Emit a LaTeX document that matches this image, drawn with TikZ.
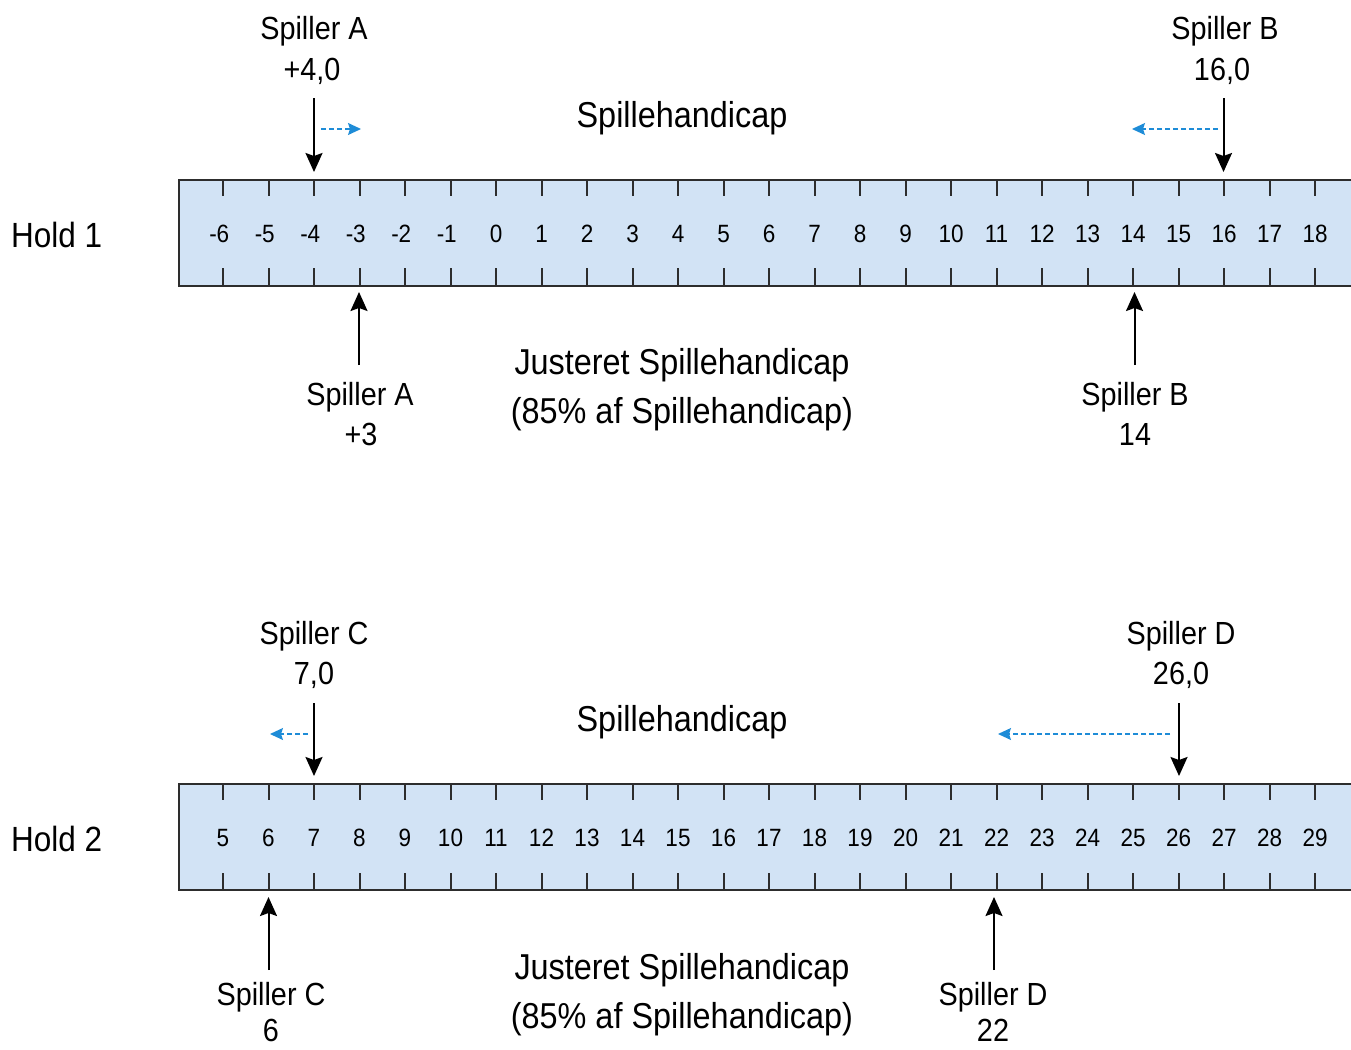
\documentclass[tikz,border=0pt]{standalone}
\usepackage{fontspec}
\setmainfont{Liberation Sans}[FakeStretch=0.9]
\usetikzlibrary{arrows.meta}
\definecolor{rulerfill}{RGB}{210,227,245}
\definecolor{rulerline}{RGB}{45,45,45}
\definecolor{shiftblue}{RGB}{30,140,215}
\begin{document}
\begin{tikzpicture}[x=1pt,y=-1pt,
  lbl/.style={font=\fontsize{32}{38}\selectfont, anchor=base, inner sep=0pt},
  ttl/.style={font=\fontsize{36}{42}\selectfont, anchor=base, inner sep=0pt},
  holdlbl/.style={font=\fontsize{35}{40}\selectfont, anchor=base west, inner sep=0pt},
  num/.style={font=\fontsize{25}{30}\selectfont, anchor=base, inner sep=0pt},
  ruler/.style={draw=rulerline, fill=rulerfill, line width=2pt, minimum width=1200pt, minimum height=106pt, anchor=north west, inner sep=0pt},
  tickmark/.style={draw=rulerline, line width=2pt},
  ptr/.style={-{Stealth[length=19pt,width=17pt,inset=3pt]}, line width=2pt},
  shiftarr/.style={draw=shiftblue, dash pattern=on 5pt off 3pt, line width=1.3pt, -{Stealth[length=13pt,width=12pt,inset=2pt]}, shiftblue}
]
\useasboundingbox[fill=white] (0,0) rectangle (1351,1049);

% ---------------- Hold 1 ----------------
\node[ruler] (r1) at (178,179) {};
\foreach \i in {0,...,24} {
  \pgfmathsetmacro{\xx}{223+45.5*\i}
  \draw[tickmark] (\xx,179) -- (\xx,196);
  \draw[tickmark] (\xx,268) -- (\xx,285);
}
\foreach \v [count=\i from 0] in {{\llap{-}6},{\llap{-}5},{\llap{-}4},{\llap{-}3},{\llap{-}2},{\llap{-}1},0,1,2,3,4,5,6,7,8,9,10,11,12,13,14,15,16,17,18} {
  \pgfmathsetmacro{\xx}{223+45.5*\i}
  \node[num] (n1-\i) at (\xx,242) {\v};
}
\node[holdlbl] (hold1) at (11,247) {Hold 1};
\node[ttl] (sh1) at (682,127) {Spillehandicap};
\node[ttl] (jsh1) at (682,374) {Justeret Spillehandicap};
\node[ttl] (pct1) at (682,423) {(85\% af Spillehandicap)};

\node[lbl] (a1) at (314,40) {Spiller A};
\node[lbl] (a1v) at (312,80) {+4,0};
\node[lbl] (b1) at (1225,40) {Spiller B};
\node[lbl] (b1v) at (1222,80) {16,0};
\node[lbl] (a2) at (360,405) {Spiller A};
\node[lbl] (a2v) at (361,445) {+3};
\node[lbl] (b2) at (1135,405) {Spiller B};
\node[lbl] (b2v) at (1135,445) {14};

\coordinate (a1s) at (314,98);  \coordinate (a1e) at (314,172);
\coordinate (b1s) at (1223.5,98); \coordinate (b1e) at (1223.5,172);
\coordinate (a2s) at (359,365); \coordinate (a2e) at (359,292);
\coordinate (b2s) at (1134.5,365); \coordinate (b2e) at (1134.5,292);
\draw[ptr] (a1s) -- (a1e);
\draw[ptr] (b1s) -- (b1e);
\draw[ptr] (a2s) -- (a2e);
\draw[ptr] (b2s) -- (b2e);

\coordinate (da1s) at (321,129); \coordinate (da1e) at (361,129);
\coordinate (db1s) at (1218,129); \coordinate (db1e) at (1132,129);
\draw[shiftarr] (da1s) -- (da1e);
\draw[shiftarr] (db1s) -- (db1e);

% ---------------- Hold 2 ----------------
\node[ruler] (r2) at (178,783) {};
\foreach \i in {0,...,24} {
  \pgfmathsetmacro{\xx}{223+45.5*\i}
  \draw[tickmark] (\xx,783) -- (\xx,800);
  \draw[tickmark] (\xx,873) -- (\xx,890);
}
\foreach \v [count=\i from 0] in {5,6,7,8,9,10,11,12,13,14,15,16,17,18,19,20,21,22,23,24,25,26,27,28,29} {
  \pgfmathsetmacro{\xx}{223+45.5*\i}
  \node[num] (n2-\i) at (\xx,846) {\v};
}
\node[holdlbl] (hold2) at (11,851) {Hold 2};
\node[ttl] (sh2) at (682,731) {Spillehandicap};
\node[ttl] (jsh2) at (682,979) {Justeret Spillehandicap};
\node[ttl] (pct2) at (682,1028) {(85\% af Spillehandicap)};

\node[lbl] (c1) at (314,644) {Spiller C};
\node[lbl] (c1v) at (314,684) {7,0};
\node[lbl] (d1) at (1181,644) {Spiller D};
\node[lbl] (d1v) at (1181,684) {26,0};
\node[lbl] (c2) at (271,1005) {Spiller C};
\node[lbl] (c2v) at (271,1041) {6};
\node[lbl] (d2) at (993,1005) {Spiller D};
\node[lbl] (d2v) at (993,1041) {22};

\coordinate (c1s) at (314,703);  \coordinate (c1e) at (314,776);
\coordinate (d1s) at (1179,703); \coordinate (d1e) at (1179,776);
\coordinate (c2s) at (268.5,970); \coordinate (c2e) at (268.5,897);
\coordinate (d2s) at (994,970); \coordinate (d2e) at (994,897);
\draw[ptr] (c1s) -- (c1e);
\draw[ptr] (d1s) -- (d1e);
\draw[ptr] (c2s) -- (c2e);
\draw[ptr] (d2s) -- (d2e);

\coordinate (dc1s) at (308,734); \coordinate (dc1e) at (270,734);
\coordinate (dd1s) at (1170,734); \coordinate (dd1e) at (998,734);
\draw[shiftarr] (dc1s) -- (dc1e);
\draw[shiftarr] (dd1s) -- (dd1e);
\end{tikzpicture}
\end{document}
